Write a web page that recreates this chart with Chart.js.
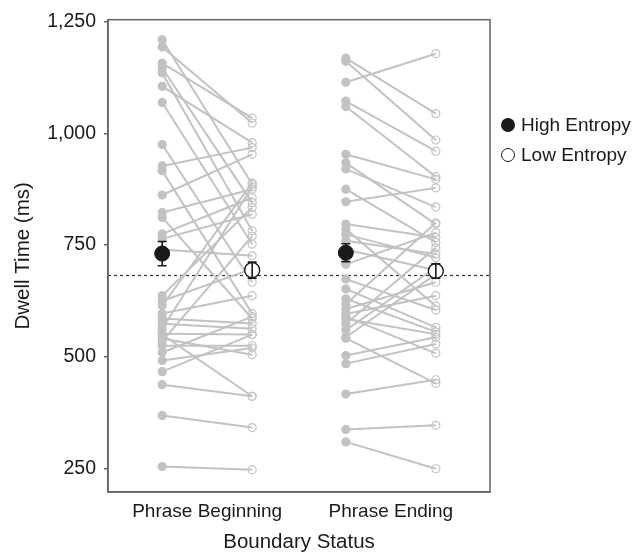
<!DOCTYPE html>
<html><head><meta charset="utf-8">
<script src="https://cdn.jsdelivr.net/npm/chart.js@4.4.1/dist/chart.umd.min.js"></script>
<style>
html,body{margin:0;padding:0;background:#fff;}
#wrap{position:relative;width:635px;height:555px;}
.lg{position:absolute;left:501px;height:30px;display:flex;align-items:center;font-family:"Liberation Sans",Arial,sans-serif;font-size:19px;color:#1a1a1a;white-space:nowrap;}
.mk{display:inline-block;width:14px;height:14px;border-radius:50%;box-sizing:border-box;margin-right:6px;}
</style></head>
<body>
<div id="wrap">
<canvas id="c" width="635" height="555"></canvas>
<div class="lg" style="top:110px"><span class="mk" style="background:#1a1a1a"></span>High Entropy</div>
<div class="lg" style="top:140px"><span class="mk" style="border:1.3px solid #1a1a1a;background:#fff"></span>Low Entropy</div>
</div>
<script>
// ---- data ----
const categories = ['Phrase Beginning', 'Phrase Ending'];
const yTicks = [250, 500, 750, 1000, 1250];
const seriesNames = ['High Entropy', 'Low Entropy'];

// individual participants, Phrase Beginning (High -> Low)
const beginHigh = [1209,1193,1157,1146,1135,1105,1069,975,927,916,862,823,812,775,764,740,637,625,615,597,586,574,563,552,550,541,535,525,510,492,467,438,369,255];
const beginLow  = [886,1023,1034,845,782,979,752,667,968,597,953,875,586,856,819,726,834,697,889,637,575,563,880,550,412,505,770,525,590,520,550,412,342,248];

// individual participants, Phrase Ending (High -> Low)
const endHigh = [1168,1161,1114,1072,1060,953,934,920,875,847,797,786,774,760,740,707,674,652,630,618,607,596,590,585,574,560,544,542,503,485,417,338,310];
const endLow  = [1044,985,1178,960,903,897,797,835,756,878,767,614,722,730,694,778,605,566,556,800,667,637,508,551,744,700,685,441,544,529,449,347,250];

// condition means and standard errors
const meanHigh = [731, 733];
const seHigh   = [27, 20];
const meanLow  = [694, 692];
const seLow    = [18, 16];

const refLine = 683;

// ---- build ----
const groups = [[beginHigh, beginLow], [endHigh, endLow]];
const OFF = 0.245;
const GRAY = '#c2c2c2';
const datasets = [];

datasets.push({
  label: seriesNames[0], order: 0,
  data: meanHigh.map((m, i) => ({x: i + 1 - OFF, y: m})),
  showLine: false, pointRadius: 7.5, pointBackgroundColor: '#1a1a1a', pointBorderColor: '#1a1a1a', pointBorderWidth: 1
});
datasets.push({
  label: seriesNames[1], order: 0,
  data: meanLow.map((m, i) => ({x: i + 1 + OFF, y: m})),
  showLine: false, pointRadius: 7.5, pointBackgroundColor: '#ffffff', pointBorderColor: '#1a1a1a', pointBorderWidth: 1.4
});

groups.forEach(([hi, lo], g) => {
  hi.forEach((v, k) => {
    datasets.push({
      label: 'p', order: 1,
      data: [{x: g + 1 - OFF, y: v}, {x: g + 1 + OFF, y: lo[k]}],
      showLine: true, borderColor: GRAY, borderWidth: 2,
      pointRadius: 4, pointBorderWidth: 1.2,
      pointBackgroundColor: [GRAY, 'rgba(255,255,255,0)'],
      pointBorderColor: GRAY
    });
  });
});

const FONT = '"Liberation Sans", Arial, sans-serif';
Chart.defaults.font.family = FONT;
Chart.defaults.color = '#1a1a1a';

const decor = {
  id: 'decor',
  beforeDatasetsDraw(chart) {
    const {ctx, chartArea: a, scales: {y}} = chart;
    ctx.save();
    ctx.strokeStyle = '#333';
    ctx.lineWidth = 1.2;
    ctx.setLineDash([3, 3]);
    const yy = Math.round(y.getPixelForValue(refLine)) + 0.5;
    ctx.beginPath(); ctx.moveTo(a.left, yy); ctx.lineTo(a.right, yy); ctx.stroke();
    ctx.restore();
  },
  afterDatasetsDraw(chart) {
    const {ctx, chartArea: a, scales: {x, y}} = chart;
    ctx.save();
    ctx.strokeStyle = '#1a1a1a';
    ctx.lineWidth = 1.6;
    const bar = (xv, m, s) => {
      const px = x.getPixelForValue(xv);
      const t = y.getPixelForValue(m + s), b = y.getPixelForValue(m - s);
      ctx.beginPath();
      ctx.moveTo(px, t); ctx.lineTo(px, b);
      ctx.moveTo(px - 4.5, t); ctx.lineTo(px + 4.5, t);
      ctx.moveTo(px - 4.5, b); ctx.lineTo(px + 4.5, b);
      ctx.stroke();
    };
    meanHigh.forEach((m, i) => bar(i + 1 - OFF, m, seHigh[i]));
    meanLow.forEach((m, i) => bar(i + 1 + OFF, m, seLow[i]));
    ctx.strokeStyle = '#666';
    ctx.lineWidth = 1.5;
    ctx.strokeRect(a.left, a.top, a.right - a.left, a.bottom - a.top);
    ctx.restore();
  }
};

new Chart(document.getElementById('c'), {
  type: 'scatter',
  data: {datasets},
  options: {
    responsive: false, animation: false, devicePixelRatio: 1,
    layout: {padding: {top: 18, right: 145, left: 0, bottom: 0}},
    plugins: {legend: {display: false}, tooltip: {enabled: false}},
    scales: {
      x: {
        type: 'linear', min: 0.46, max: 2.54,
        afterBuildTicks: s => { s.ticks = categories.map((c, i) => ({value: i + 1})); },
        afterFit: s => { s.height = 63; },
        ticks: {callback: v => categories[v - 1], font: {size: 19}, color: '#1a1a1a', padding: 0, maxRotation: 0, autoSkip: false},
        grid: {display: false},
        border: {display: true, color: '#666', width: 1.5},
        title: {display: true, text: 'Boundary Status', font: {size: 20.5}, color: '#1a1a1a', padding: {top: 0, bottom: 0}}
      },
      y: {
        min: 198, max: 1254,
        afterBuildTicks: s => { s.ticks = yTicks.map(v => ({value: v})); },
        afterFit: s => { s.width = 108; },
        ticks: {callback: v => v.toLocaleString('en-US'), font: {size: 19.5}, color: '#1a1a1a', padding: 8},
        grid: {drawOnChartArea: false, drawTicks: true, tickLength: 4, color: '#666', lineWidth: 1.5},
        border: {display: true, color: '#666', width: 1.5},
        title: {display: true, text: 'Dwell Time (ms)', font: {size: 20.5}, color: '#1a1a1a', padding: {top: 11, bottom: 0}}
      }
    }
  },
  plugins: [decor]
});
</script>
</body></html>
